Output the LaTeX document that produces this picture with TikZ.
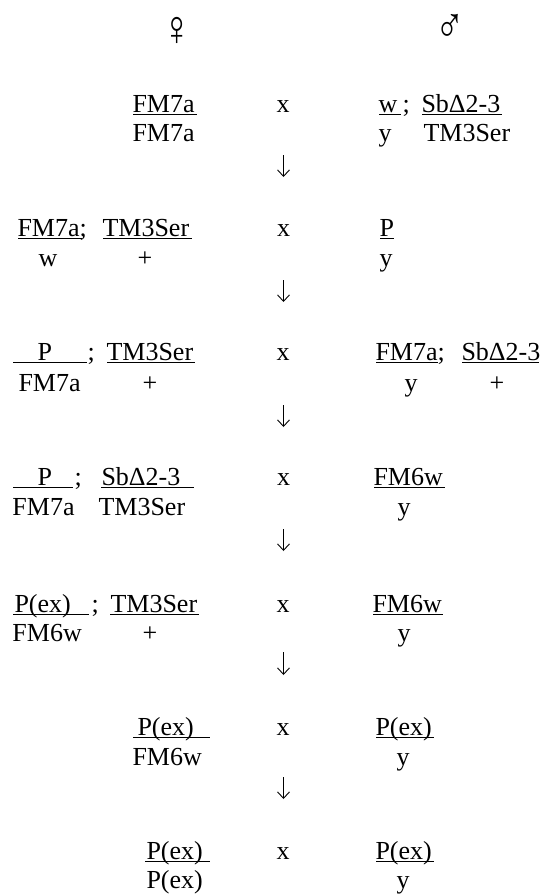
\documentclass[tikz,border=0pt]{standalone}
\usepackage{fontspec}
\usepackage{graphicx}
\usetikzlibrary{arrows.meta}
\setmainfont{Liberation Serif}
\newcommand\narrowglyph[1]{\scalebox{0.78}[1]{#1}}
\begin{document}
\begin{tikzpicture}[x=1pt,y=-1pt,
  lbl/.style={anchor=base west,inner sep=0pt,outer sep=0pt,font=\fontsize{26}{31}\selectfont},
  sex/.style={anchor=center,inner sep=0pt,font=\fontsize{50}{56}\selectfont},
  dnarrow/.style={line width=0.9pt,-{Straight Barb[length=6.5pt,width=12pt,line width=0.9pt]}},
  ul/.style={line width=1.8pt}]
\useasboundingbox (0,0) rectangle (541,894);

% parents' sex symbols
\node[sex] (fem) at (177,31) {\narrowglyph{♀}};
\node[sex] (mal) at (450,28) {\narrowglyph{♂}};

% cross 1
\node[lbl] (f1t) at (132.5,112) {FM7a};
\node[lbl] (f1b) at (132.5,141) {FM7a};
\node[lbl] (x1) at (276.5,112) {x};
\node[lbl] (m1t) at (378.5,112) {w};
\node[lbl] (m1s) at (402.5,112) {;};
\node[lbl] (m1u) at (421.5,112) {SbΔ2-3};
\node[lbl] (m1b) at (378.5,141) {y};
\node[lbl] (m1c) at (423.5,141) {TM3Ser};
\draw[ul] (133,114.5) -- (197,114.5);
\draw[ul] (379,114.5) -- (401,114.5);
\draw[ul] (422,114.5) -- (502,114.5);
\coordinate (a1s) at (283.5,155);
\coordinate (a1e) at (283.5,177);
\draw[dnarrow] (a1s) -- (a1e);

% cross 2
\node[lbl] (f2t) at (17.5,236) {FM7a;};
\node[lbl] (f2u) at (102.5,236) {TM3Ser};
\node[lbl] (f2b) at (38.5,266) {w};
\node[lbl] (f2c) at (137.5,266) {+};
\node[lbl] (x2) at (277,236) {x};
\node[lbl] (m2t) at (379.5,236) {P};
\node[lbl] (m2b) at (379.5,266) {y};
\draw[ul] (18,238.5) -- (82,238.5);
\draw[ul] (103,238.5) -- (192,238.5);
\draw[ul] (380,238.5) -- (394,238.5);
\coordinate (a2s) at (283.5,280);
\coordinate (a2e) at (283.5,302);
\draw[dnarrow] (a2s) -- (a2e);

% cross 3
\node[lbl] (f3t) at (37.5,360) {P};
\node[lbl] (f3s) at (87.5,360) {;};
\node[lbl] (f3u) at (106.5,360) {TM3Ser};
\node[lbl] (f3b) at (18.5,391) {FM7a};
\node[lbl] (f3c) at (142.5,391) {+};
\node[lbl] (x3) at (276.5,360) {x};
\node[lbl] (m3t) at (375.5,360) {FM7a;};
\node[lbl] (m3u) at (461.5,360) {SbΔ2-3};
\node[lbl] (m3b) at (404.5,391) {y};
\node[lbl] (m3c) at (489.5,391) {+};
\draw[ul] (13,362.5) -- (87,362.5);
\draw[ul] (107,362.5) -- (195,362.5);
\draw[ul] (376,362.5) -- (438,362.5);
\draw[ul] (462,362.5) -- (539,362.5);
\coordinate (a3s) at (283.5,405);
\coordinate (a3e) at (283.5,427);
\draw[dnarrow] (a3s) -- (a3e);

% cross 4
\node[lbl] (f4t) at (37.5,485) {P};
\node[lbl] (f4s) at (74.5,485) {;};
\node[lbl] (f4u) at (101.5,485) {SbΔ2-3};
\node[lbl] (f4b) at (12.5,515) {FM7a};
\node[lbl] (f4c) at (98.5,515) {TM3Ser};
\node[lbl] (x4) at (277,485) {x};
\node[lbl] (m4t) at (373.5,485) {FM6w};
\node[lbl] (m4b) at (397.5,515) {y};
\draw[ul] (13,487.5) -- (73,487.5);
\draw[ul] (101,487.5) -- (194,487.5);
\draw[ul] (374,487.5) -- (445,487.5);
\coordinate (a4s) at (283.5,529);
\coordinate (a4e) at (283.5,551);
\draw[dnarrow] (a4s) -- (a4e);

% cross 5
\node[lbl] (f5t) at (14.5,612) {P(ex)};
\node[lbl] (f5s) at (91.5,612) {;};
\node[lbl] (f5u) at (110.5,612) {TM3Ser};
\node[lbl] (f5b) at (12.5,641) {FM6w};
\node[lbl] (f5c) at (142.5,641) {+};
\node[lbl] (x5) at (276.5,612) {x};
\node[lbl] (m5t) at (372.5,612) {FM6w};
\node[lbl] (m5b) at (397.5,641) {y};
\draw[ul] (13,614.5) -- (89,614.5);
\draw[ul] (110,614.5) -- (199,614.5);
\draw[ul] (373,614.5) -- (443,614.5);
\coordinate (a5s) at (283.5,652);
\coordinate (a5e) at (283.5,675);
\draw[dnarrow] (a5s) -- (a5e);

% cross 6
\node[lbl] (f6t) at (137.5,735) {P(ex)};
\node[lbl] (f6b) at (132.5,765) {FM6w};
\node[lbl] (x6) at (276.5,735) {x};
\node[lbl] (m6t) at (375.5,735) {P(ex)};
\node[lbl] (m6b) at (396.5,765) {y};
\draw[ul] (133,737.5) -- (210,737.5);
\draw[ul] (376,737.5) -- (434,737.5);
\coordinate (a6s) at (283.5,777);
\coordinate (a6e) at (283.5,799);
\draw[dnarrow] (a6s) -- (a6e);

% cross 7
\node[lbl] (f7t) at (146.5,859) {P(ex)};
\node[lbl] (f7b) at (146.5,888) {P(ex)};
\node[lbl] (x7) at (276.5,859) {x};
\node[lbl] (m7t) at (375.5,859) {P(ex)};
\node[lbl] (m7b) at (396.5,888) {y};
\draw[ul] (145,861.5) -- (210,861.5);
\draw[ul] (376,861.5) -- (434,861.5);
\end{tikzpicture}
\end{document}
